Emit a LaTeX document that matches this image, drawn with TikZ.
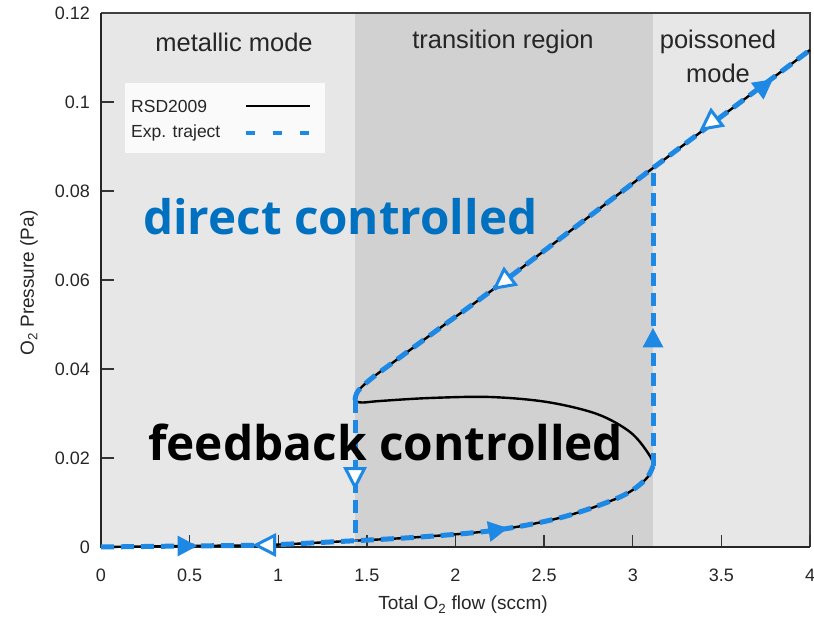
\documentclass[tikz,border=0pt]{standalone}
\usepackage{fontspec}
\setmainfont{Liberation Sans}
\newfontfamily\bigfont{Open Sans}
\definecolor{lightbg}{RGB}{231,231,231}
\definecolor{midbg}{RGB}{209,209,209}
\definecolor{expblue}{RGB}{30,136,229}
\definecolor{txtblue}{RGB}{0,112,192}
\definecolor{legbg}{RGB}{250,250,250}
\tikzset{
  ticklbl/.style={font=\fontsize{18}{20}\selectfont, inner sep=0pt},
  regionlbl/.style={font=\fontsize{25.5}{28}\selectfont, inner sep=0pt, text=black!85},
  axislbl/.style={font=\fontsize{19}{21}\selectfont, inner sep=0pt, text=black!85},
  leglbl/.style={font=\fontsize{17.5}{19}\selectfont, inner sep=0pt, anchor=west, text=black!85},
  simline/.style={line width=2.4pt, black},
  expline/.style={line width=5pt, expblue, dash pattern=on 13pt off 7pt},
  bigtext/.style={inner sep=0pt, anchor=base west, font=\bigfont\bfseries},
  ftri/.pic={\fill[expblue] (11,0) -- (-8.5,10.5) -- (-8.5,-10.5) -- cycle;},
  otri/.pic={\draw[expblue, line width=3pt, fill=white, line join=miter] (10,0) -- (-8.5,9.5) -- (-8.5,-9.5) -- cycle;}
}
\begin{document}
\begin{tikzpicture}[x=1pt,y=-1pt]
\useasboundingbox (0,0) rectangle (814,617);
\fill[white] (0,0) rectangle (814,617);
% regions
\fill[lightbg] (101,13) rectangle (355,547);
\fill[midbg] (355,13) rectangle (653,547);
\fill[lightbg] (653,13) rectangle (810,547);
% frame
\draw[line width=1.2pt, black!75] (101,13) -- (810,13) -- (810,547);
% ticks
\foreach \i in {1,...,8} { \draw[line width=1.4pt, black!80] (101+88.625*\i,547) -- (101+88.625*\i,535); }
\foreach \i in {1,...,5} { \draw[line width=1.4pt, black!80] (101,547-89*\i) -- (114,547-89*\i); }
\draw[line width=2pt, black!85] (101,13) -- (101,547) -- (810,547);
% x tick labels
\foreach \v [count=\i from 0] in {0,0.5,1,1.5,2,2.5,3,3.5,4}
  { \node[ticklbl, text=black!85] (xt\i) at (101+88.625*\i,575) {\v}; }
% y tick labels
\foreach \v [count=\i from 0] in {0,0.02,0.04,0.06,0.08,0.1,0.12}
  { \node[ticklbl, anchor=east, text=black!85] (yt\i) at (90,547-89*\i) {\v}; }
% axis titles
\node[axislbl] (xtitle) at (463,605) {Total O\textsubscript{2} flow (sccm)};
\node[axislbl, rotate=90] (ytitle) at (29,283) {O\textsubscript{2} Pressure (Pa)};
% region labels
\node[regionlbl] (metal) at (234,42) {metallic mode};
\node[regionlbl] (trans) at (503,42) {transition region};
\node[regionlbl] (pois1) at (718,42) {poissoned};
\node[regionlbl] (pois2) at (718,73) {mode};
% legend
\fill[legbg] (125,83) rectangle (325,153);
\node[leglbl] (lg1) at (131,106) {RSD2009};
\node[leglbl] (lg2) at (131,133) {Exp. traject};
\coordinate (l1a) at (246,106); \coordinate (l1b) at (310,106);
\coordinate (l2a) at (246,133); \coordinate (l2b) at (313,133);
\draw[line width=2.6pt] (l1a) -- (l1b);
\draw[line width=4.2pt, expblue, dash pattern=on 9pt off 18pt] (l2a) -- (l2b);
% simulated S-curve
\draw[simline] plot[smooth, tension=0.55] coordinates {
  (101,547) (186,546) (265,545) (330,542) (420,537) (497,530) (563,517)
  (620,497) (645,480) (653,466) (648,453) (630,432) (597,414) (547,402)
  (490,397) (430,398) (380,401) (362,402.5) (355,400) (358,391) (372,378)
  (395,361) (440,328) (503,282) (653,168) (810,50)};
% experimental trajectory
\draw[expline] plot[smooth, tension=0.55] coordinates {
  (101,547) (186,546) (265,545) (330,542) (420,537) (497,530) (563,517)
  (620,497) (645,480) (653,466)};
\coordinate (v1a) at (653,466); \coordinate (v1b) at (653,168);
\draw[expline] (v1a) -- (v1b);
\draw[expline] plot[smooth, tension=0.55] coordinates {
  (355,400) (358,391) (372,378) (395,361) (440,328) (503,282) (653,168) (810,50)};
\coordinate (v2a) at (355,400); \coordinate (v2b) at (355,542);
\draw[expline] (v2a) -- (v2b);
% direction markers
\pic[rotate=0] at (186,546) {ftri};
\pic[rotate=180] at (266,545) {otri};
\pic[rotate=10] at (497,530) {ftri};
\pic[rotate=270] at (355,477) {otri};
\pic[rotate=90] at (653,339) {ftri};
\pic[rotate=217] at (503,282) {otri};
\pic[rotate=217] at (710,123) {otri};
\pic[rotate=37] at (764,86) {ftri};
% annotations
\node[bigtext, text=txtblue] (direct) at (143,235) {\resizebox{394pt}{!}{direct controlled}};
\node[bigtext, text=black] (feedback) at (148,460) {\resizebox{475pt}{!}{feedback controlled}};
\end{tikzpicture}
\end{document}
